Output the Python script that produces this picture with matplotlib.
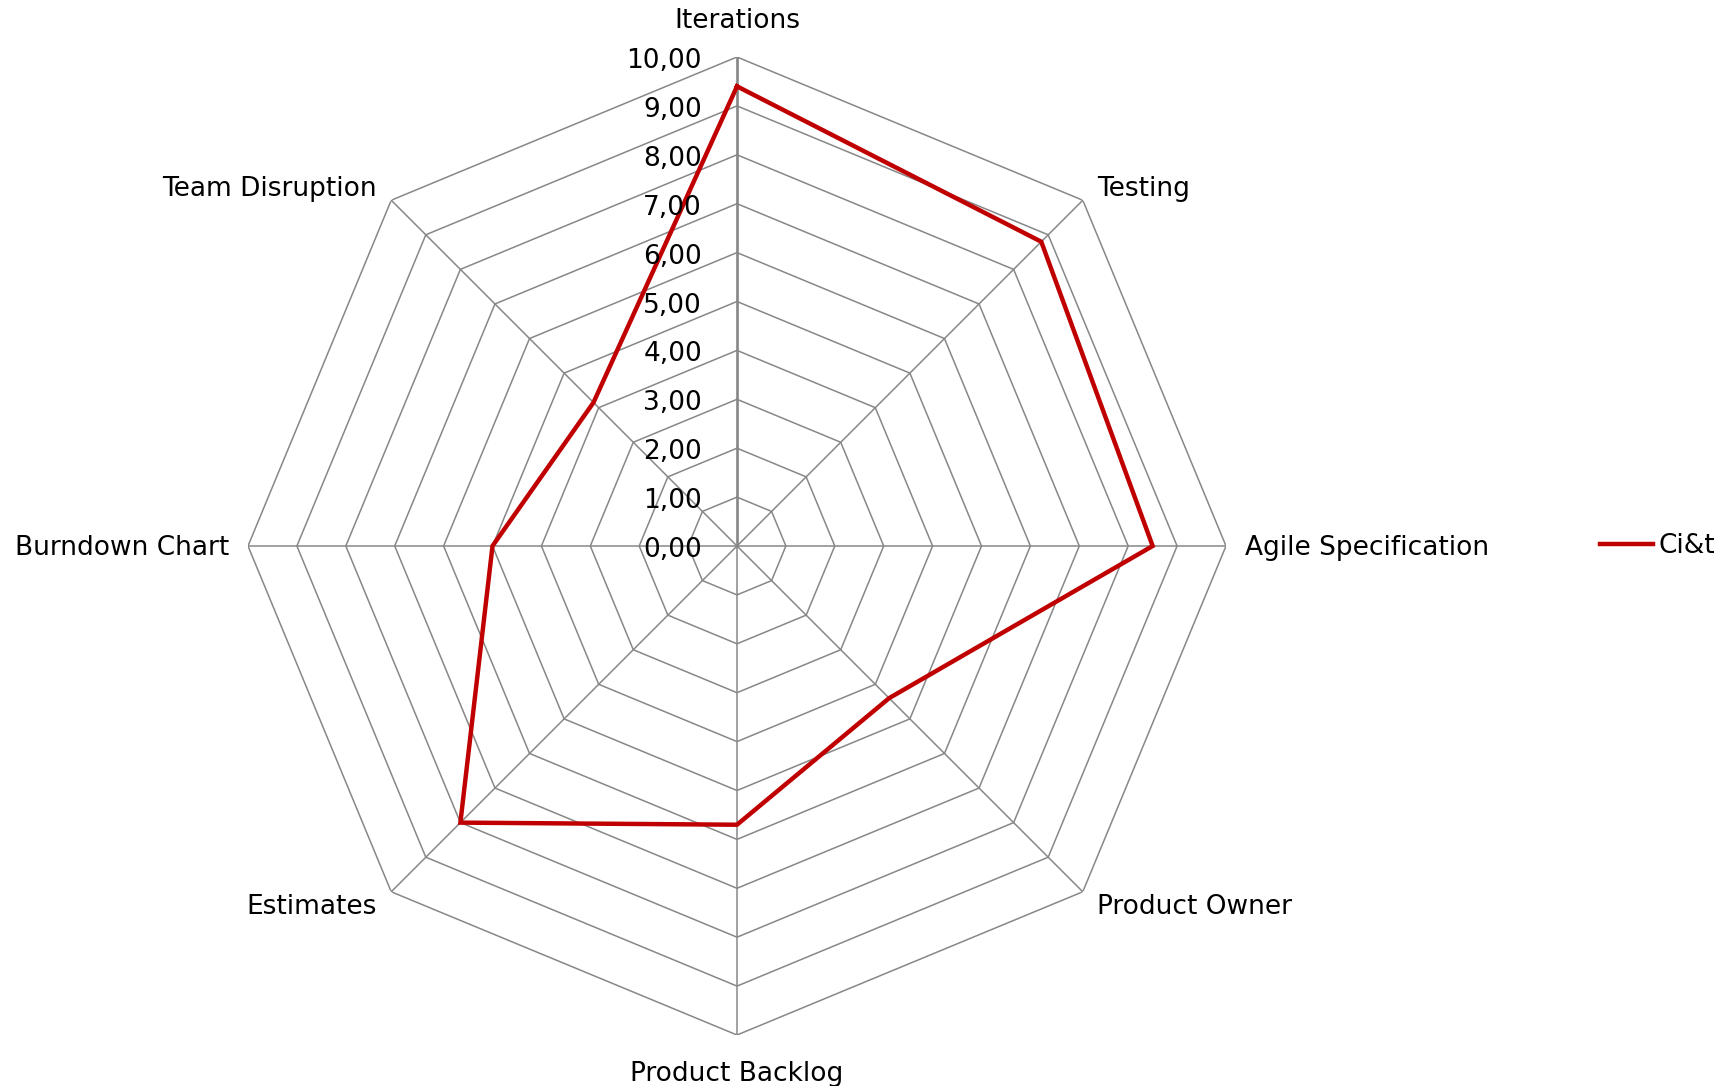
import numpy as np
import matplotlib
matplotlib.use("Agg")
import matplotlib.pyplot as plt

categories = ["Iterations", "Testing", "Agile Specification", "Product Owner",
              "Product Backlog", "Estimates", "Burndown Chart", "Team Disruption"]
values = [9.4, 8.8, 8.5, 4.4, 5.7, 8.0, 5.0, 4.15]
series_name = "Ci&t"
tick_values = [0, 1, 2, 3, 4, 5, 6, 7, 8, 9, 10]
tick_labels = ["0,00", "1,00", "2,00", "3,00", "4,00", "5,00", "6,00", "7,00",
               "8,00", "9,00", "10,00"]

W, H = 1729, 1086
fig = plt.figure(figsize=(W / 100, H / 100), dpi=100)
cx, cy, R = 737, 546, 489
ax = fig.add_axes([(cx - R) / W, (H - cy - R) / H, 2 * R / W, 2 * R / H],
                  projection="polar")
ax.set_theta_zero_location("N")
ax.set_theta_direction(-1)
ax.set_ylim(0, 10)
ax.grid(False)
ax.spines["polar"].set_visible(False)
ax.set_xticks([])
ax.set_yticks([])
ax.patch.set_visible(False)

n = len(categories)
angles = np.linspace(0, 2 * np.pi, n, endpoint=False)
closed = np.concatenate([angles, angles[:1]])

grid_color = "#878787"
for t in tick_values[1:]:
    ax.plot(closed, [t] * (n + 1), color=grid_color, lw=1.1, zorder=1)
for i, a in enumerate(angles):
    if i == 0:
        ax.plot([a, a], [0, 10], color="#868686", lw=1.9, zorder=1.5)
    else:
        ax.plot([a, a], [0, 10], color=grid_color, lw=1.1, zorder=1)

vals = list(values) + [values[0]]
line, = ax.plot(closed, vals, color="#C00000", lw=3.2, zorder=3,
                solid_joinstyle="miter", label=series_name)

fs = 19
for t, lab in zip(tick_values, tick_labels):
    ax.annotate(lab, xy=(0, t), xytext=(-35, -11), textcoords="offset pixels",
                ha="right", va="baseline", fontsize=fs, color="black", zorder=4)

offsets = {
    0: (0, 29, "center"),
    1: (14, 4, "left"),
    2: (19, -9, "left"),
    3: (14, -22, "left"),
    4: (0, -46, "center"),
    5: (-14, -22, "right"),
    6: (-19, -9, "right"),
    7: (-14, 4, "right"),
}
for i, (a, lab) in enumerate(zip(angles, categories)):
    dx, dy, ha = offsets[i]
    ax.annotate(lab, xy=(a, 10), xytext=(dx, dy), textcoords="offset pixels",
                ha=ha, va="baseline", fontsize=fs, color="black")

fig.legend(handles=[line], labels=[series_name], loc="center left",
           bbox_to_anchor=(1600 / W, 1 - 546 / H), frameon=False,
           borderpad=0, borderaxespad=0, handlelength=2.0, handletextpad=0.22,
           fontsize=fs)

fig.savefig("out.png", dpi=100, facecolor="white")
